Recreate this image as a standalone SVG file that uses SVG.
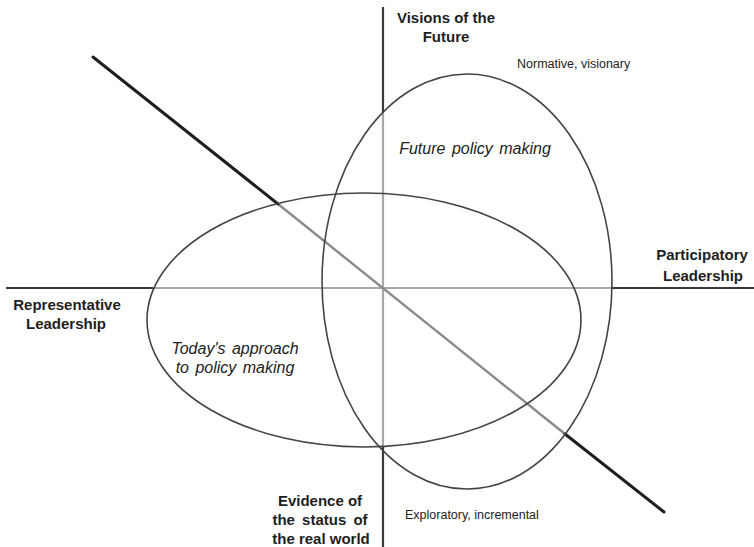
<svg xmlns="http://www.w3.org/2000/svg" width="754" height="547" viewBox="0 0 754 547">
<style>
.dark{stroke:#3a3a3a;stroke-width:2.2;fill:none}
.light{stroke:#a8a8a8;stroke-width:2.2;fill:none}
.diag{stroke:#1e1e1e;stroke-width:3;fill:none;stroke-linecap:round}
.diagl{stroke:#8a8a8a;stroke-width:2.4;fill:none}
.ell{stroke:#444;stroke-width:1.6;fill:none}
.lab{font-family:"Liberation Sans",Arial,sans-serif;font-weight:bold;font-size:15px;fill:#1e1e1e;text-anchor:middle}
.ital{font-family:"Liberation Sans",Arial,sans-serif;font-style:italic;font-size:16px;fill:#222;word-spacing:2px}
.small{font-family:"Liberation Sans",Arial,sans-serif;font-size:12.5px;fill:#222}
</style>
<rect width="754" height="547" fill="#fff"/>
<g id="connectors">
<line class="light" x1="383" y1="112" x2="383" y2="447"/>
<line class="dark" x1="383" y1="7" x2="383" y2="112"/>
<line class="dark" x1="383" y1="447" x2="383" y2="547"/>
<line class="light" x1="153" y1="288" x2="612" y2="288"/>
<line class="dark" x1="6" y1="288" x2="153" y2="288"/>
<line class="dark" x1="612" y1="288" x2="754" y2="288"/>
<line class="diagl" x1="278" y1="204" x2="565" y2="434"/>
<line class="diag" x1="93" y1="57" x2="278" y2="204"/>
<line class="diag" x1="565" y1="434" x2="664" y2="512"/>
</g>
<g id="today">
<ellipse class="ell" cx="364" cy="320" rx="217" ry="127"/>
<text class="ital" x="235" y="354" text-anchor="middle">Today's approach</text>
<text class="ital" x="235" y="373" text-anchor="middle">to policy making</text>
</g>
<g id="future">
<ellipse class="ell" cx="467" cy="281.5" rx="145" ry="207.5"/>
<text class="ital" x="475" y="154" text-anchor="middle">Future policy making</text>
</g>
<g id="visions">
<text class="lab" x="446" y="23">Visions of the</text>
<text class="lab" x="446" y="42">Future</text>
</g>
<g id="evidence">
<text class="lab" x="320" y="506">Evidence of</text>
<text class="lab" x="320" y="525" style="word-spacing:3px">the status of</text>
<text class="lab" x="321" y="544">the real world</text>
</g>
<g id="representative">
<text class="lab" x="67" y="310">Representative</text>
<text class="lab" x="66" y="329">Leadership</text>
</g>
<g id="participatory">
<text class="lab" x="702" y="260">Participatory</text>
<text class="lab" x="703" y="281">Leadership</text>
</g>
<g id="normative">
<text class="small" x="517" y="68">Normative, visionary</text>
</g>
<g id="exploratory">
<text class="small" x="405" y="519">Exploratory, incremental</text>
</g>
</svg>
